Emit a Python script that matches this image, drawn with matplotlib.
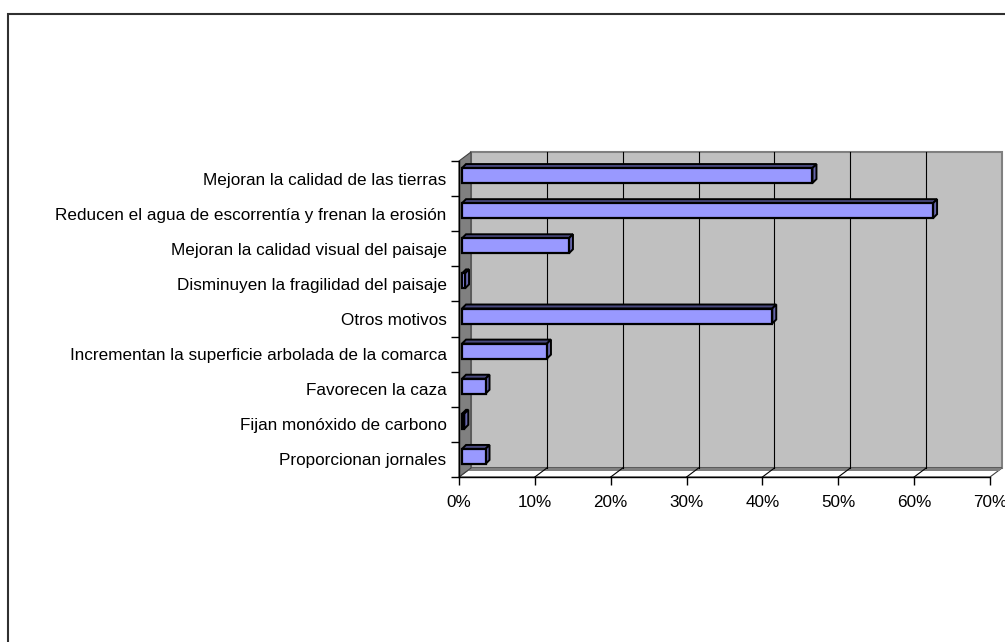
import matplotlib
matplotlib.use('Agg')
import matplotlib.pyplot as plt
from matplotlib.patches import Polygon, Rectangle
from matplotlib.transforms import Affine2D

plt.rcParams['font.family'] = ['Liberation Sans', 'DejaVu Sans']

labels = [
    "Mejoran la calidad de las tierras",
    "Reducen el agua de escorrentía y frenan la erosión",
    "Mejoran la calidad visual del paisaje",
    "Disminuyen la fragilidad del paisaje",
    "Otros motivos",
    "Incrementan la superficie arbolada de la comarca",
    "Favorecen la caza",
    "Fijan monóxido de carbono",
    "Proporcionan jornales",
]
values = [46.2, 62.1, 14.1, 0.4, 40.9, 11.2, 3.1, 0.3, 3.1]
xticks = [0, 10, 20, 30, 40, 50, 60, 70]
xtick_labels = [f"{t}%" for t in xticks]

W, H = 1005, 642
fig = plt.figure(figsize=(W / 100, H / 100), dpi=100)

# front plane of the plot in pixels
ax_l, ax_r, ax_t, ax_b = 459, 990, 161, 477
ax = fig.add_axes([ax_l / W, 1 - ax_b / H, (ax_r - ax_l) / W, (ax_b - ax_t) / H])
ax.set_facecolor('none')
n = len(labels)
ax.set_xlim(0, 70)
ax.set_ylim(n - 0.5, -0.5)

kx = 70 / (ax_r - ax_l)
ky = n / (ax_b - ax_t)
DX, DY = 12, 9


def off(x, y, px, py=None):
    # move a data point up-right by px, py pixels (oblique depth)
    if py is None:
        py = px
    return (x + px * kx, y - py * ky)


y_lo, y_hi = n - 0.5, -0.5

# back wall
ax.add_patch(Polygon([off(0, y_lo, DX, DY), off(70, y_lo, DX, DY), off(70, y_hi, DX, DY), off(0, y_hi, DX, DY)],
                     closed=True, facecolor='#c0c0c0', edgecolor='#808080', lw=1.5, zorder=0.5, clip_on=False))
# floor
ax.add_patch(Polygon([(0, y_lo), (70, y_lo), off(70, y_lo, DX, DY), off(0, y_lo, DX, DY)],
                     closed=True, facecolor='white', edgecolor='#404040', lw=0.8, zorder=0.6, clip_on=False))
ax.add_patch(Polygon([off(0, y_lo, DX - 3, DY - 3), off(70, y_lo, DX - 3, DY - 3),
                      off(70, y_lo, DX, DY), off(0, y_lo, DX, DY)],
                     closed=True, facecolor='#808080', edgecolor='none', zorder=0.7, clip_on=False))
# side wall
ax.add_patch(Polygon([(0, y_lo), (0, y_hi), off(0, y_hi, DX, DY), off(0, y_lo, DX, DY)],
                     closed=True, facecolor='#808080', edgecolor='#404040', lw=0.8, zorder=0.8, clip_on=False))

# gridlines on the back wall and across the floor
for t in xticks[1:-1]:
    x0, y0 = off(t, y_lo, DX, DY)
    x1, y1 = off(t, y_hi, DX, DY)
    ax.plot([x0, x1], [y0, y1], color='black', lw=0.8, zorder=0.9, clip_on=False)
    ax.plot([t, x0], [y_lo, y0], color='black', lw=0.8, zorder=0.9, clip_on=False)

# bars
BAR_OFF, BAR_D = 3, 4
h = 15 * ky
ypos = list(range(n))
bars = ax.barh(ypos, values, height=h, color='#9999ff', edgecolor='black', lw=1.6, zorder=3)
for b in bars:
    b.set_transform(ax.transData + Affine2D().translate(BAR_OFF, BAR_OFF))
for y, v in zip(ypos, values):
    top = [off(0, y - h / 2, BAR_OFF), off(v, y - h / 2, BAR_OFF),
           off(v, y - h / 2, BAR_OFF + BAR_D), off(0, y - h / 2, BAR_OFF + BAR_D)]
    side = [off(v, y + h / 2, BAR_OFF), off(v, y - h / 2, BAR_OFF),
            off(v, y - h / 2, BAR_OFF + BAR_D), off(v, y + h / 2, BAR_OFF + BAR_D)]
    ax.add_patch(Polygon(top, closed=True, facecolor='#4a4a80', edgecolor='black', lw=1.4, zorder=2.8, clip_on=False))
    ax.add_patch(Polygon(side, closed=True, facecolor='#6666aa', edgecolor='black', lw=1.4, zorder=2.9, clip_on=False))

# axes
for s in ['top', 'right']:
    ax.spines[s].set_visible(False)
for s in ['left', 'bottom']:
    ax.spines[s].set_color('black')
    ax.spines[s].set_linewidth(1.0)
    ax.spines[s].set_zorder(2)

ax.set_xticks(xticks)
ax.set_xticklabels(xtick_labels, fontsize=12.3)
ax.tick_params(axis='x', length=6, width=1, pad=7, color='black')
ax.set_yticks(ypos)
ax.set_yticklabels(labels, fontsize=12.3)
ax.set_yticks([i + 0.5 for i in range(-1, n)], minor=True)
ax.tick_params(axis='y', which='major', length=0, pad=9)
ax.tick_params(axis='y', which='minor', length=6, width=1, color='black')

# chart area border
fig.add_artist(Rectangle((8 / W, -0.1), 2, 1 - 14 / H + 0.1, transform=fig.transFigure,
                         fill=False, edgecolor='#303030', lw=1.5))

fig.savefig('out.png', dpi=100)
